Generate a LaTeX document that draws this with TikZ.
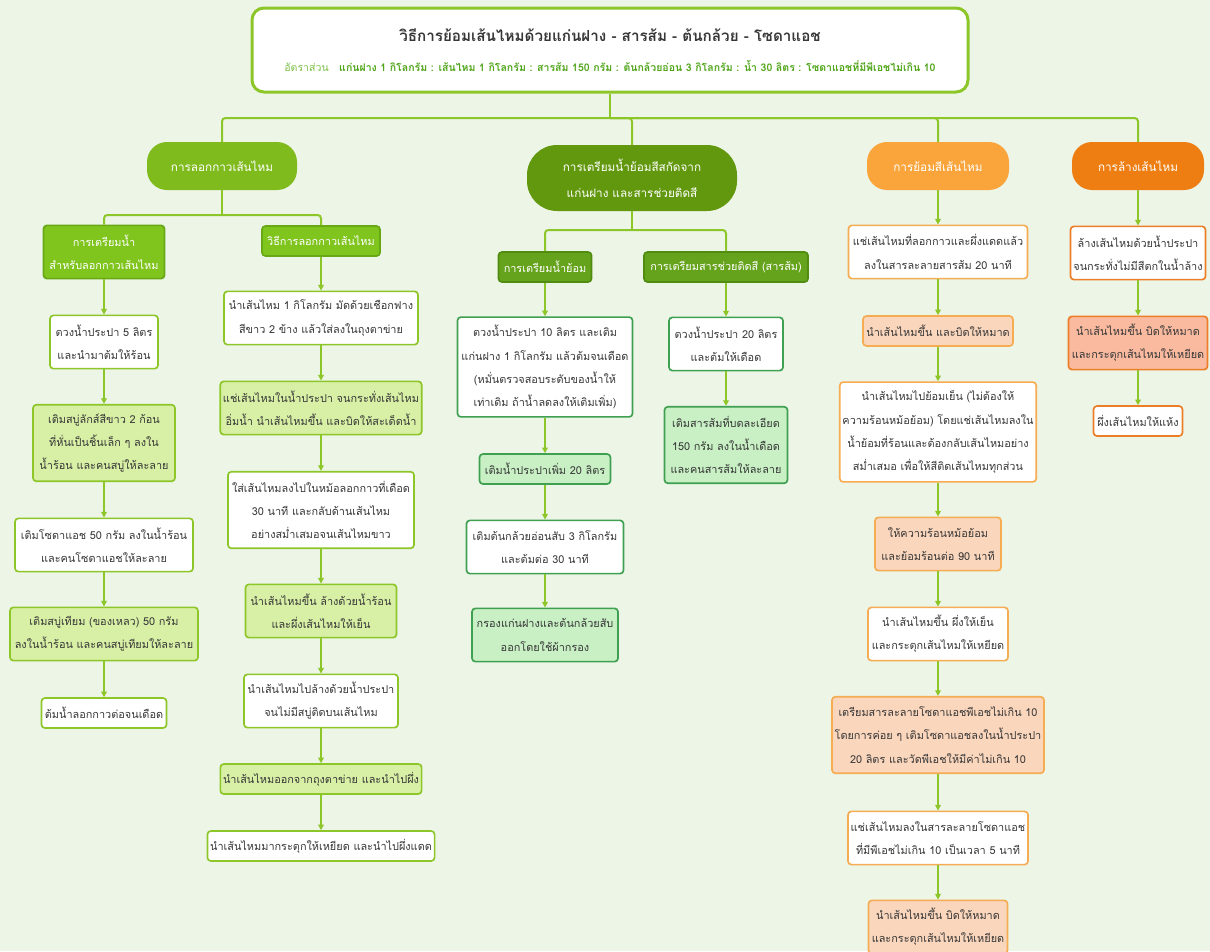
\documentclass[tikz,border=0pt]{standalone}
\usepackage{fontspec}
\newfontfamily\thaifont[Script=Thai]{Loma}
\usetikzlibrary{arrows.meta}

\definecolor{bg}{RGB}{237,245,231}
\definecolor{lineg}{RGB}{141,198,40}
\definecolor{txt}{RGB}{55,55,55}
\definecolor{catA}{RGB}{128,187,30}
\definecolor{catB}{RGB}{98,152,14}
\definecolor{catC}{RGB}{250,165,60}
\definecolor{catD}{RGB}{238,126,18}
\definecolor{headf}{RGB}{128,196,30}
\definecolor{headb}{RGB}{104,168,20}
\definecolor{mheadf}{RGB}{102,163,28}
\definecolor{mheadb}{RGB}{80,140,16}
\definecolor{paleg}{RGB}{216,240,165}
\definecolor{midg}{RGB}{62,160,80}
\definecolor{mint}{RGB}{200,240,196}
\definecolor{orl}{RGB}{245,172,82}
\definecolor{peach}{RGB}{250,214,188}
\definecolor{ord}{RGB}{236,126,40}
\definecolor{salmon}{RGB}{249,186,160}
\definecolor{ratiog}{RGB}{80,165,25}
\definecolor{ratiol}{RGB}{125,192,70}

\newcommand{\bodyfont}{\thaifont\fontsize{9.3pt}{19.8pt}\selectfont}

\begin{document}
\begin{tikzpicture}[x=0.03cm, y=-0.03cm,
    every node/.style={font=\bodyfont, text=txt},
    boxw/.style={minimum width=#1*0.03cm},
    nlines/.style={minimum height=(#1*23.3+6.6)*0.03cm},
    box/.style={rectangle, line width=0.05cm, rounded corners=0.1cm, align=center, inner xsep=0.08cm, inner ysep=0.08cm, nlines=1},
    wbox/.style={box, draw=lineg, fill=white},
    gbox/.style={box, draw=lineg, fill=paleg},
    mwbox/.style={box, draw=midg, fill=white},
    mgbox/.style={box, draw=midg, fill=mint},
    owbox/.style={box, draw=orl, fill=white},
    obox/.style={box, draw=orl, fill=peach},
    rwbox/.style={box, draw=ord, fill=white},
    rbox/.style={box, draw=ord, fill=salmon},
    head/.style={box, draw=headb, fill=headf, text=white},
    mhead/.style={box, draw=mheadb, fill=mheadf, text=white},
    cat/.style={rectangle, rounded corners=0.6cm, align=center, text=white, minimum height=48*0.03cm, font=\thaifont\fontsize{10pt}{22pt}\selectfont},
    link/.style={draw=lineg, line width=0.06cm, rounded corners=0.1cm},
    flow/.style={link, -{Triangle[length=0.17cm, width=0.17cm]}}
  ]

\fill[bg] (0,0) rectangle (1210,951);
\useasboundingbox (0,0) rectangle (1210,951);

\node[draw=lineg, fill=white, line width=0.09cm, rounded corners=0.36cm, align=center,
      boxw=716, minimum height=84*0.03cm, font=\thaifont\fontsize{9pt}{26pt}\selectfont] (title) at (610,50)
  {{\fontsize{13pt}{26pt}\selectfont\bfseries\color{txt}วิธีการย้อมเส้นไหมด้วยแก่นฝาง - สารส้ม - ต้นกล้วย - โซดาแอช}\\
   {\color{ratiol}อัตราส่วน}\quad{\bfseries\color{ratiog}แก่นฝาง 1 กิโลกรัม : เส้นไหม 1 กิโลกรัม : สารส้ม 150 กรัม : ต้นกล้วยอ่อน 3 กิโลกรัม : น้ำ 30 ลิตร : โซดาแอชที่มีพีเอชไม่เกิน 10}};

\node[cat, fill=catA, boxw=150] (cat1) at (222,166) {การลอกกาวเส้นไหม};
\node[cat, fill=catB, boxw=210, minimum height=66*0.03cm, rounded corners=0.9cm] (cat2) at (632,178) {การเตรียมน้ำย้อมสีสกัดจาก\\แก่นฝาง และสารช่วยติดสี};
\node[cat, fill=catC, boxw=142] (cat3) at (938,166) {การย้อมสีเส้นไหม};
\node[cat, fill=catD, boxw=132] (cat4) at (1138,166) {การล้างเส้นไหม};

\node[head, boxw=121, nlines=2] (prep) at (104,252) {การเตรียมน้ำ\\สำหรับลอกกาวเส้นไหม};
\node[wbox, boxw=108, nlines=2] (b11) at (104,342) {ตวงน้ำประปา 5 ลิตร\\และนำมาต้มให้ร้อน};
\node[gbox, boxw=142, nlines=3] (b12) at (104,443) {เติมสบู่ลักส์สีขาว 2 ก้อน\\ที่หั่นเป็นชิ้นเล็ก ๆ ลงใน\\น้ำร้อน และคนสบู่ให้ละลาย};
\node[wbox, boxw=178, nlines=2] (b13) at (104,545) {เติมโซดาแอช 50 กรัม ลงในน้ำร้อน\\และคนโซดาแอชให้ละลาย};
\node[gbox, boxw=188, nlines=2] (b14) at (104,634) {เติมสบู่เทียม (ของเหลว) 50 กรัม\\ลงในน้ำร้อน และคนสบู่เทียมให้ละลาย};
\node[wbox, boxw=125] (b15) at (104,713) {ต้มน้ำลอกกาวต่อจนเดือด};

\node[head, boxw=118] (method) at (321,241) {วิธีการลอกกาวเส้นไหม};
\node[wbox, boxw=194, nlines=2] (b21) at (321,318) {นำเส้นไหม 1 กิโลกรัม มัดด้วยเชือกฟาง\\สีขาว 2 ข้าง แล้วใส่ลงในถุงตาข่าย};
\node[gbox, boxw=200, nlines=2] (b22) at (321,408) {แช่เส้นไหมในน้ำประปา จนกระทั่งเส้นไหม\\อิ่มน้ำ นำเส้นไหมขึ้น และบิดให้สะเด็ดน้ำ};
\node[wbox, boxw=186, nlines=3] (b23) at (321,510) {ใส่เส้นไหมลงไปในหม้อลอกกาวที่เดือด\\30 นาที และกลับด้านเส้นไหม\\อย่างสม่ำเสมอจนเส้นไหมขาว};
\node[gbox, boxw=151, nlines=2] (b24) at (321,611) {นำเส้นไหมขึ้น ล้างด้วยน้ำร้อน\\และผึ่งเส้นไหมให้เย็น};
\node[wbox, boxw=154, nlines=2] (b25) at (321,701) {นำเส้นไหมไปล้างด้วยน้ำประปา\\จนไม่มีสบู่ติดบนเส้นไหม};
\node[gbox, boxw=201] (b26) at (321,779) {นำเส้นไหมออกจากถุงตาข่าย และนำไปผึ่ง};
\node[wbox, boxw=225] (b27) at (321,846) {นำเส้นไหมมากระตุกให้เหยียด และนำไปผึ่งแดด};

\node[mhead, boxw=93] (m1) at (545,267) {การเตรียมน้ำย้อม};
\node[mwbox, boxw=175, nlines=4] (mb11) at (545,367) {ตวงน้ำประปา 10 ลิตร และเติม\\แก่นฝาง 1 กิโลกรัม แล้วต้มจนเดือด\\(หมั่นตรวจสอบระดับของน้ำให้\\เท่าเดิม ถ้าน้ำลดลงให้เติมเพิ่ม)};
\node[mgbox, boxw=131] (mb12) at (545,469) {เติมน้ำประปาเพิ่ม 20 ลิตร};
\node[mwbox, boxw=157, nlines=2] (mb13) at (545,547) {เติมต้นกล้วยอ่อนสับ 3 กิโลกรัม\\และต้มต่อ 30 นาที};
\node[mgbox, boxw=146, nlines=2] (mb14) at (545,635) {กรองแก่นฝางและต้นกล้วยสับ\\ออกโดยใช้ผ้ากรอง};
\node[mhead, boxw=164] (m2) at (726,267) {การเตรียมสารช่วยติดสี (สารส้ม)};
\node[mwbox, boxw=114, nlines=2] (mb21) at (726,344) {ตวงน้ำประปา 20 ลิตร\\และต้มให้เดือด};
\node[mgbox, boxw=123, nlines=3] (mb22) at (726,445) {เติมสารส้มที่บดละเอียด\\150 กรัม ลงในน้ำเดือด\\และคนสารส้มให้ละลาย};

\node[owbox, boxw=179, nlines=2] (o1) at (938,252) {แช่เส้นไหมที่ลอกกาวและผึ่งแดดแล้ว\\ลงในสารละลายสารส้ม 20 นาที};
\node[obox, boxw=150] (o2) at (938,331) {นำเส้นไหมขึ้น และบิดให้หมาด};
\node[owbox, boxw=192, nlines=4] (o3) at (938,432) {นำเส้นไหมไปย้อมเย็น (ไม่ต้องให้\\ความร้อนหม้อย้อม) โดยแช่เส้นไหมลงใน\\น้ำย้อมที่ร้อนและต้องกลับเส้นไหมอย่าง\\สม่ำเสมอ เพื่อให้สีติดเส้นไหมทุกส่วน};
\node[obox, boxw=126, nlines=2] (o4) at (938,544) {ให้ความร้อนหม้อย้อม\\และย้อมร้อนต่อ 90 นาที};
\node[owbox, boxw=140, nlines=2] (o5) at (938,634) {นำเส้นไหมขึ้น ผึ่งให้เย็น\\และกระตุกเส้นไหมให้เหยียด};
\node[obox, boxw=212, nlines=3] (o6) at (938,735) {เตรียมสารละลายโซดาแอชพีเอชไม่เกิน 10\\โดยการค่อย ๆ เติมโซดาแอชลงในน้ำประปา\\20 ลิตร และวัดพีเอชให้มีค่าไม่เกิน 10};
\node[owbox, boxw=179, nlines=2] (o7) at (938,838) {แช่เส้นไหมลงในสารละลายโซดาแอช\\ที่มีพีเอชไม่เกิน 10 เป็นเวลา 5 นาที};
\node[obox, boxw=139, nlines=2] (o8) at (938,927) {นำเส้นไหมขึ้น บิดให้หมาด\\และกระตุกเส้นไหมให้เหยียด};

\node[rwbox, boxw=135, nlines=2] (r1) at (1138,253) {ล้างเส้นไหมด้วยน้ำประปา\\จนกระทั่งไม่มีสีตกในน้ำล้าง};
\node[rbox, boxw=139, nlines=2] (r2) at (1138,343) {นำเส้นไหมขึ้น บิดให้หมาด\\และกระตุกเส้นไหมให้เหยียด};
\node[rwbox, boxw=89] (r3) at (1138,421) {ผึ่งเส้นไหมให้แห้ง};

\coordinate (top) at (610,118);
\coordinate (j1) at (222,215);
\coordinate (j2) at (632,230);

\draw[link] (title.south) -- (top);
\draw[link] (cat1.north) |- (top) -| (cat4.north);
\draw[link] (top) -| (cat2.north);
\draw[link] (top) -| (cat3.north);
\draw[link] (cat1.south) -- (j1);
\draw[link] (prep.north) |- (j1) -| (method.north);
\draw[link] (cat2.south) -- (j2);
\draw[link] (m1.north) |- (j2) -| (m2.north);

\foreach \a/\b in {prep/b11, b11/b12, b12/b13, b13/b14, b14/b15,
                   method/b21, b21/b22, b22/b23, b23/b24, b24/b25, b25/b26, b26/b27,
                   m1/mb11, mb11/mb12, mb12/mb13, mb13/mb14, m2/mb21, mb21/mb22,
                   cat3/o1, o1/o2, o2/o3, o3/o4, o4/o5, o5/o6, o6/o7, o7/o8,
                   cat4/r1, r1/r2, r2/r3}
  \draw[flow] (\a) -- (\b);

\end{tikzpicture}
\end{document}
